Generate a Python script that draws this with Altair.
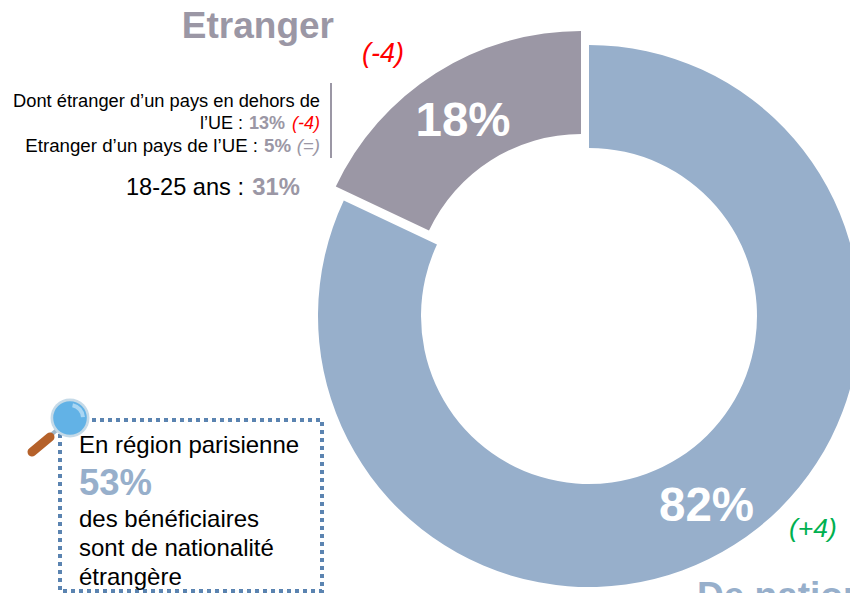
import altair as alt
import pandas as pd

# Data
categories = ["De nationalité française", "Etranger"]
shares = [82, 18]
starts = [0, 82]
ends = [82, 100]
BLUE = "#97AFCB"
GREY = "#9B97A5"
FONT = "Liberation Sans"
OFF = 8  # page margin

df = pd.DataFrame({"cat": categories, "value": shares, "start": starts, "end": ends})


def slice_layer(cat, color, cx, cy):
    return (
        alt.Chart(df)
        .transform_filter(alt.datum.cat == cat)
        .mark_arc(x=cx - OFF, y=cy - OFF, outerRadius=271, innerRadius=168, color=color)
        .encode(
            theta=alt.Theta("start:Q", scale=alt.Scale(domain=[0, 100], range=[0, 6.28318530718])),
            theta2="end:Q",
        )
    )


def label(txt, x, y, size, color="#000000", align="left", bold=False, italic=False):
    return alt.Chart(df.head(1)).mark_text(
        x=x - OFF, y=y - OFF, fontSize=size, color=color, align=align, baseline="alphabetic",
        font=FONT, fontWeight="bold" if bold else "normal", fontStyle="italic" if italic else "normal",
    ).encode(text=alt.value(txt))


layers = [
    slice_layer(categories[0], BLUE, 589, 316),
    slice_layer(categories[1], GREY, 581, 302),
    label("18%", 463, 136, 47.5, "#FFFFFF", "center", bold=True),
    label("82%", 706.5, 521, 47.5, "#FFFFFF", "center", bold=True),
    label("Etranger", 334, 38, 37, GREY, "right", bold=True),
    label("De nationalité", 697, 608, 37, BLUE, bold=True),
    label("(-4)", 362, 62, 27, "#FF0000", italic=True),
    label("(+4)", 789, 537, 26.5, "#00B050", italic=True),
    label("Dont étranger d’un pays en dehors de", 320, 107, 18.3, align="right"),
    label("l’UE :", 243, 129, 18, align="right"),
    label("13%", 285, 129, 18, GREY, "right", bold=True),
    label("(-4)", 320, 129, 18, "#FF0000", "right", italic=True),
    label("Etranger d’un pays de l’UE :", 258, 152, 18.7, align="right"),
    label("5%", 291, 152, 18.7, GREY, "right", bold=True),
    label("(=)", 320, 152, 18.7, GREY, "right", italic=True),
    label("18-25 ans :", 244, 195, 23.6, align="right"),
    label("31%", 300, 195, 23.8, GREY, "right", bold=True),
    label("En région parisienne", 79, 453, 24),
    label("53%", 79, 495, 36.5, BLUE, bold=True),
    label("des bénéficiaires", 79, 527, 24),
    label("sont de nationalité", 79, 556, 24),
    label("étrangère", 79, 585, 24),
]


def px(v):
    return alt.value(v - OFF)


base = alt.Chart(df.head(1))
vrule = base.mark_rule(color=GREY, strokeWidth=2).encode(x=px(331), y=px(83), y2=px(158))
box = base.mark_rect(fillOpacity=0, stroke="#5B84B1", strokeWidth=4, strokeDash=[4, 4]).encode(
    x=px(60), x2=px(322), y=px(420), y2=px(591)
)
handle_thin = base.mark_rule(color="#9FB8CC", strokeWidth=4).encode(x=px(44), x2=px(58), y=px(441), y2=px(429))
handle = base.mark_rule(color="#B5612A", strokeWidth=9, strokeCap="round").encode(x=px(32), x2=px(50), y=px(452), y2=px(437))
ring = base.mark_point(filled=True, color="#C5DAE8", size=1520, opacity=1, shape="circle").encode(x=px(70), y=px(418))
lens = base.mark_point(filled=True, color="#62B2E6", size=1130, opacity=1, shape="circle").encode(x=px(70), y=px(418))
gleam = base.mark_arc(x=70 - OFF, y=418 - OFF, innerRadius=11, outerRadius=15, theta=0.2, theta2=1.5, color="#A9D6F3")

chart = alt.layer(*layers[:2], vrule, box, handle_thin, handle, ring, lens, gleam, *layers[2:]).properties(
    width=842, height=585, padding=0, background="#FFFFFF", autosize=alt.AutoSizeParams(type="none"),
).configure_view(strokeWidth=0, stroke="transparent")

chart.save("out.html", embed_options={"renderer": "svg", "actions": False})
